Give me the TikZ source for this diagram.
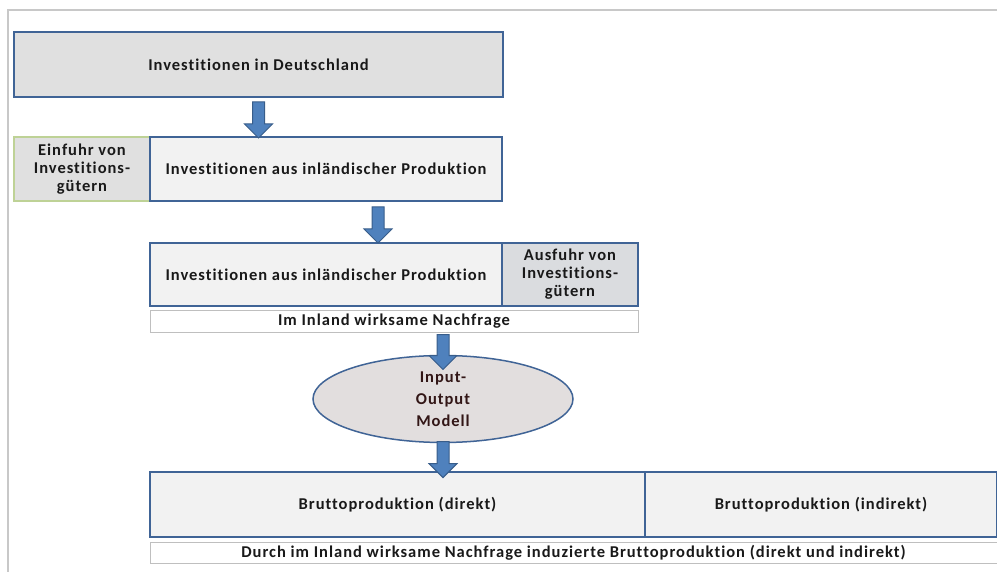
\documentclass[tikz,border=0pt]{standalone}
\usepackage{fontspec}
\usetikzlibrary{positioning,shapes.geometric,shapes.arrows,calc}
\newfontfamily\boxfont{Carlito}[LetterSpace=6,Ligatures=NoCommon]
\definecolor{boxline}{RGB}{64,100,150}
\definecolor{boxgray}{RGB}{224,224,224}
\definecolor{boxlight}{RGB}{242,242,242}
\definecolor{boxmid}{RGB}{218,220,223}
\definecolor{greenline}{RGB}{190,210,150}
\definecolor{arrowfill}{RGB}{79,129,189}
\definecolor{arrowline}{RGB}{56,93,138}
\definecolor{framegray}{RGB}{200,200,200}
\definecolor{ovalfill}{RGB}{226,222,222}
\definecolor{ovaltext}{RGB}{50,22,22}
\tikzset{
    bluebox/.style={draw=boxline, line width=1.5pt, fill=boxlight, outer sep=0pt,
        font=\boxfont\bfseries\fontsize{16.5}{18}\selectfont, text=black!90, align=center},
    notebox/.style={draw=black!25, line width=1pt, fill=white, outer sep=0pt,
        font=\boxfont\bfseries\fontsize{16.5}{17}\selectfont, text=black!90},
    downarrow/.style={single arrow, rotate=-90, draw=arrowline, line width=1pt, fill=arrowfill,
        inner sep=5.5pt, single arrow head extend=8pt, minimum width=27pt}
}
\begin{document}
\begin{tikzpicture}[x=1pt,y=-1pt]
    \useasboundingbox (0,0) rectangle (997,572);
    \draw[framegray, line width=2pt] (8,572) -- (8,10) -- (997,10);

    \node[bluebox, fill=boxgray, minimum width=489, minimum height=65, anchor=north west] (invde) at (14,32) {Investitionen in Deutschland};
    \node[bluebox, draw=greenline, fill=boxgray, minimum width=136, minimum height=64, anchor=north west] (einfuhr) at (14,137) {Einfuhr von\\Investitions-\\gütern};
    \node[bluebox, minimum width=352, minimum height=64, right=0pt of einfuhr] (inland) {Investitionen aus inländischer Produktion};

    \node[bluebox, minimum width=352, minimum height=63, anchor=north west] (inland2) at (150,243) {Investitionen aus inländischer Produktion};
    \node[bluebox, fill=boxmid, minimum width=136, minimum height=63, right=0pt of inland2] (ausfuhr) {Ausfuhr von\\Investitions-\\gütern};
    \node[notebox, minimum width=488, minimum height=21, anchor=north west] (nachfrage) at (150,311) {Im Inland wirksame Nachfrage};

    \node[ellipse, draw=boxline, line width=1.5pt, fill=ovalfill, minimum width=260, minimum height=82,
        font=\boxfont\bfseries\fontsize{16.5}{22}\selectfont, text=ovaltext, align=center] (modell) at (443,399) {Input-\\Output\\Modell};

    \node[bluebox, minimum width=495, minimum height=65, anchor=north west] (direkt) at (150,472) {Bruttoproduktion (direkt)};
    \node[bluebox, minimum width=352, minimum height=65, right=0pt of direkt] (indirekt) {Bruttoproduktion (indirekt)};
    \node[notebox, minimum width=847, minimum height=21, anchor=north west] (induziert) at (150,542) {Durch im Inland wirksame Nachfrage induzierte Bruttoproduktion (direkt und indirekt)};

    \node[downarrow, minimum height=36] (pfeil1) at ($(invde.south)!0.5!(inland.north -| invde.south)$) {};
    \node[downarrow, minimum height=36] (pfeil2) at ($(378,0 |- inland.south)!0.5!(378,0 |- inland2.north)$) {};
    \node[downarrow, minimum height=35] (pfeil3) at ($(modell.north |- nachfrage.south)+(0,17)$) {};
    \node[downarrow, minimum height=36] (pfeil4) at ($(modell.south)!0.5!(modell.south |- direkt.north)+(0,-1)$) {};
\end{tikzpicture}
\end{document}
